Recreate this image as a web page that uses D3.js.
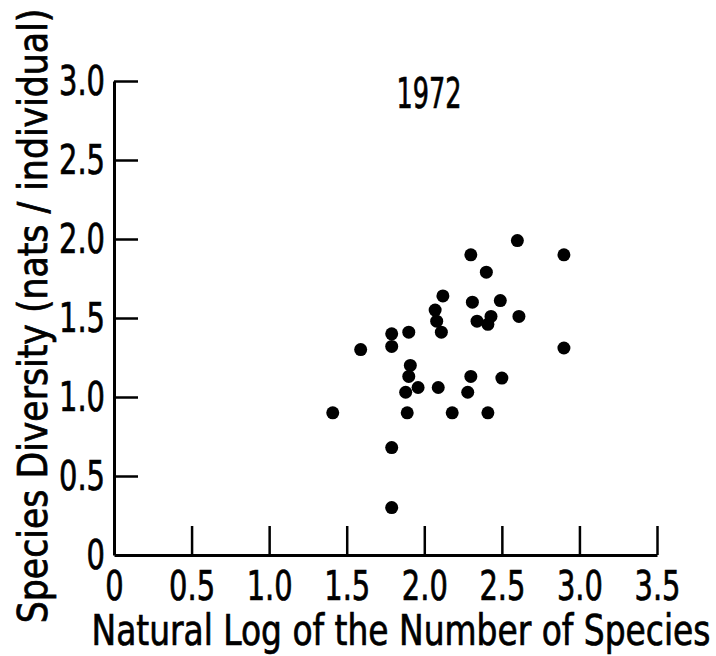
<!DOCTYPE html>
<html>
<head>
<meta charset="utf-8">
<script src="https://cdn.jsdelivr.net/npm/d3@7"></script>
<style>
  body { margin: 0; background: #fff; }
  text { font-family: "Liberation Sans Narrow", "DejaVu Sans Condensed", "Arial Narrow", sans-serif; fill: #000; stroke: #000; stroke-width: 0.7px; }
</style>
</head>
<body>
<div id="chart"></div>
<script>
// values
const lnSpecies = [2.60, 2.30, 2.40, 2.12, 2.31, 2.49, 2.07, 2.08, 2.34, 2.41, 2.43,
                   2.61, 2.11, 1.79, 1.90, 1.59, 1.79, 1.91, 1.90, 1.96, 1.88, 2.09,
                   2.30, 2.28, 2.50, 1.41, 1.89, 2.18, 2.41, 2.90, 2.90, 1.79, 1.79];
const diversity = [1.99, 1.90, 1.79, 1.64, 1.60, 1.61, 1.55, 1.48, 1.48, 1.46, 1.51,
                   1.51, 1.41, 1.40, 1.41, 1.30, 1.32, 1.20, 1.13, 1.06, 1.03, 1.06,
                   1.13, 1.03, 1.12, 0.90, 0.90, 0.90, 0.90, 1.90, 1.31, 0.68, 0.30];

const xTicks = [0, 0.5, 1.0, 1.5, 2.0, 2.5, 3.0, 3.5];
const xTickLabels = ['0', '0.5', '1.0', '1.5', '2.0', '2.5', '3.0', '3.5'];
const yTicks = [0, 0.5, 1.0, 1.5, 2.0, 2.5, 3.0];
const yTickLabels = ['0', '0.5', '1.0', '1.5', '2.0', '2.5', '3.0'];

const title = '1972';
const xTitle = 'Natural Log of the Number of Species';
const yTitle = 'Species Diversity (nats / individual)';

let width = 716, height = 656;

let svg = d3.select('#chart')
    .append('svg')
      .attr('width', width)
      .attr('height', height)
      .style('display', 'block');

svg.append('rect').attr('width', width).attr('height', height).attr('fill', '#fff');

let x = d3.scaleLinear()
    .domain([0, 3.5])
    .range([114, 657]);

let y = d3.scaleLinear()
    .domain([0, 3])
    .range([555, 81]);

// X axis, ticks point up into the plot
let xAxis = svg.append('g')
    .attr('transform', `translate(0,${y(0)})`)
    .call(d3.axisBottom(x)
        .tickValues(xTicks)
        .tickFormat((d, i) => xTickLabels[i])
        .tickSizeInner(-29)
        .tickSizeOuter(0)
        .tickPadding(16));

// Y axis, ticks point right into the plot
let yAxis = svg.append('g')
    .attr('transform', `translate(${x(0)},0)`)
    .call(d3.axisLeft(y)
        .tickValues(yTicks)
        .tickFormat((d, i) => yTickLabels[i])
        .tickSizeInner(-24)
        .tickSizeOuter(0)
        .tickPadding(9));

[xAxis, yAxis].forEach(a => {
    a.select('.domain').attr('stroke', '#000').attr('stroke-width', 3);
    a.selectAll('.tick line').attr('stroke', '#000').attr('stroke-width', 2.5);
    a.selectAll('.tick text')
        .attr('font-size', 41)
        .style('font-family', '"Liberation Sans Narrow", "DejaVu Sans Condensed", sans-serif')
        .attr('fill', '#000');
});
// hide the 0 tick lines that sit on the other axis
xAxis.selectAll('.tick').filter(d => d === 0).select('line').remove();
yAxis.selectAll('.tick').filter(d => d === 0).select('line').remove();

// the printed digits are narrow: squeeze to about 46px per "x.x" label
let sample = xAxis.selectAll('.tick text').filter(d => d === 0.5).node().getComputedTextLength();
let squeeze = 46 / sample;
xAxis.selectAll('.tick text').attr('transform', `scale(${squeeze},1)`);
yAxis.selectAll('.tick text')
    .attr('x', -9 / squeeze)
    .attr('transform', `scale(${squeeze},1)`);

// points
svg.append('g')
    .selectAll('circle')
    .data(lnSpecies)
    .enter()
    .append('circle')
      .attr('cx', d => x(d))
      .attr('cy', (d, i) => y(diversity[i]))
      .attr('r', 6.5)
      .attr('fill', '#000');

// squeeze a text horizontally (in its own frame) to a given printed length
function fitText(sel, target) {
    let len = sel.node().getComputedTextLength();
    let t = sel.attr('transform') || '';
    sel.attr('transform', `${t} scale(${target / len},1)`);
}

// year label
let yearLabel = svg.append('text')
    .attr('transform', `translate(${x(2.03)},108)`)
    .attr('text-anchor', 'middle')
    .attr('font-size', 42)
    .text(title);
fitText(yearLabel, 65);

// axis titles
let xLabel = svg.append('text')
    .attr('transform', 'translate(401,645)')
    .attr('text-anchor', 'middle')
    .attr('font-size', 42)
    .text(xTitle);
fitText(xLabel, 619);

let yLabel = svg.append('text')
    .attr('transform', 'translate(47,316) rotate(-90)')
    .attr('text-anchor', 'middle')
    .attr('font-size', 40)
    .text(yTitle);
fitText(yLabel, 615);
</script>
</body>
</html>
